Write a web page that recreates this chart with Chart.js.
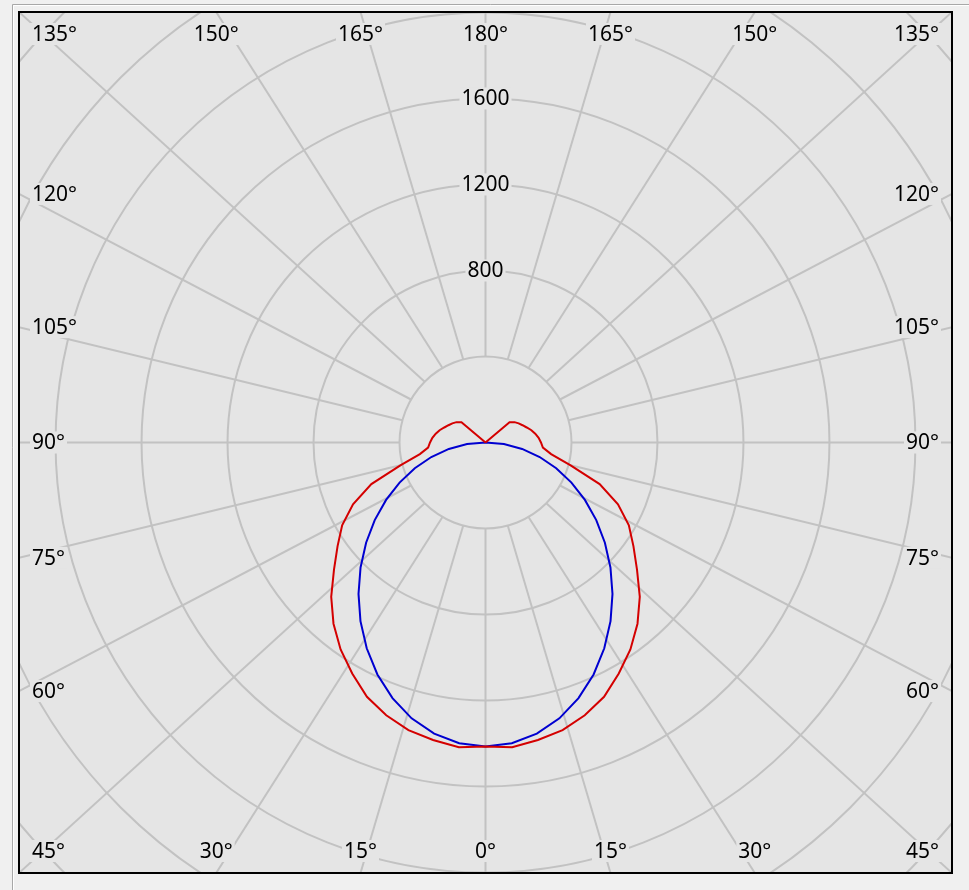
<!DOCTYPE html>
<html>
<head>
<meta charset="utf-8">
<script src="https://cdn.jsdelivr.net/npm/chart.js@4.4.1/dist/chart.umd.min.js"></script>
<style>
  html, body { margin: 0; padding: 0; background: #f0f0f0; overflow: hidden; }
  canvas { display: block; }
</style>
</head>
<body>
<canvas id="polarChart" width="969" height="890"></canvas>
<script>
// ============================ 데이터 ============================

// 각도 (0° = 아래, 180° = 위)
const angles = [0, 5, 10, 15, 20, 25, 30, 35, 40, 45, 50, 55, 60, 65, 70, 75, 80, 85, 90,
  95, 100, 105, 110, 115, 120, 125, 130, 135, 140, 145, 150, 155, 160, 165, 170, 175, 180];

// C0/C180 평면 (빨강), cd
const redValues = [1414, 1423, 1405, 1385, 1350, 1305, 1240, 1175, 1100, 1015, 920, 840, 770, 680, 565, 410, 310, 268, 258,
  248, 235, 221, 204, 190, 178, 165, 146, 0, 0, 0, 0, 0, 0, 0, 0, 0, 0];

// C90/C270 평면 (파랑), cd
const blueValues = [1414, 1404, 1375, 1328, 1265, 1190, 1105, 1014, 919, 822, 725, 629, 534, 441, 350, 261, 173, 86, 0,
  0, 0, 0, 0, 0, 0, 0, 0, 0, 0, 0, 0, 0, 0, 0, 0, 0, 0];

const ringValues = [400, 800, 1200, 1600, 2000, 2400, 2800];
const ringLabels = [800, 1200, 1600];
const spokeAngles = [0, 15, 30, 45, 60, 75, 90, 105, 120, 135, 150, 165, 180];

// ============================ 스타일 ============================

const PLOT_BG = "#e5e5e5";
const GRID = "#c2c2c2";
const FONT = "21px 'Noto Sans', 'DejaVu Sans', sans-serif";

function toPoints(values) {
  const pts = [];
  for (let i = angles.length - 1; i >= 0; i--) {
    const a = angles[i] * Math.PI / 180;
    pts.push({ x: -values[i] * Math.sin(a), y: -values[i] * Math.cos(a) });
  }
  for (let i = 1; i < angles.length; i++) {
    const a = angles[i] * Math.PI / 180;
    pts.push({ x: values[i] * Math.sin(a), y: -values[i] * Math.cos(a) });
  }
  return pts;
}

function labelWithBackdrop(ctx, text, x, y, align) {
  ctx.font = FONT;
  const w = ctx.measureText(text).width;
  let left = x - w / 2;
  if (align === "left") left = x;
  if (align === "right") left = x - w;
  ctx.fillStyle = PLOT_BG;
  ctx.fillRect(left - 2, y - 11, w + 4, 22);
  ctx.fillStyle = "#000";
  ctx.textAlign = align;
  ctx.textBaseline = "middle";
  ctx.fillText(text, x, y + 1);
}

// ============================ 극좌표 그리드 플러그인 ============================

const polarGrid = {
  id: "polarGrid",
  beforeDraw(chart) {
    const { ctx, chartArea: ca } = chart;
    ctx.save();
    ctx.fillStyle = "#f0f0f0";
    ctx.fillRect(0, 0, chart.width, chart.height);
    // 그룹박스 테두리
    ctx.strokeStyle = "#a8a8a8";
    ctx.lineWidth = 1;
    ctx.beginPath();
    ctx.moveTo(12.5, chart.height);
    ctx.lineTo(12.5, 4.5);
    ctx.lineTo(chart.width, 4.5);
    ctx.stroke();
    ctx.strokeStyle = "#ffffff";
    ctx.beginPath();
    ctx.moveTo(13.5, chart.height);
    ctx.lineTo(13.5, 5.5);
    ctx.lineTo(chart.width, 5.5);
    ctx.stroke();
    ctx.fillStyle = PLOT_BG;
    ctx.fillRect(ca.left, ca.top, ca.right - ca.left, ca.bottom - ca.top);
    ctx.restore();
  },
  beforeDatasetsDraw(chart) {
    const { ctx, chartArea: ca } = chart;
    const xs = chart.scales.x, ys = chart.scales.y;
    const cx = xs.getPixelForValue(0), cy = ys.getPixelForValue(0);
    const Wf = (ca.right - ca.left) / 2, Hf = (ca.bottom - ca.top) / 2;

    ctx.save();
    ctx.beginPath();
    ctx.rect(ca.left, ca.top, ca.right - ca.left, ca.bottom - ca.top);
    ctx.clip();

    ctx.strokeStyle = GRID;
    ctx.lineWidth = 2;
    ringValues.forEach(v => {
      const rx = xs.getPixelForValue(v) - cx;
      const ry = cy - ys.getPixelForValue(v);
      ctx.beginPath();
      ctx.ellipse(cx, cy, rx, ry, 0, 0, Math.PI * 2);
      ctx.stroke();
    });

    const labels = [];
    const inner = ringValues[0];
    spokeAngles.forEach(deg => {
      const sides = (deg === 0 || deg === 180) ? [1] : [-1, 1];
      sides.forEach(s => {
        const a = deg * Math.PI / 180;
        const u = Math.sin(a), v = Math.cos(a);
        const m = Math.max(Math.abs(u), Math.abs(v));
        const nu = u / m, nv = v / m;
        const fx = cx + s * nu * Wf, fy = cy + nv * Hf;
        const ix = xs.getPixelForValue(s * inner * u);
        const iy = ys.getPixelForValue(-inner * v);
        ctx.beginPath();
        ctx.moveTo(ix, iy);
        ctx.lineTo(fx, fy);
        ctx.stroke();

        const text = deg + "°";
        if (Math.abs(nu) > 0.999) {
          const lx = s < 0 ? ca.left + 13 : ca.right - 13;
          let ly = fy;
          if (Math.abs(nv) > 0.999) ly = nv < 0 ? ca.top + 22 : ca.bottom - 22;
          labels.push([text, lx, ly, s < 0 ? "left" : "right"]);
        } else {
          labels.push([text, fx, nv < 0 ? ca.top + 22 : ca.bottom - 22, "center"]);
        }
      });
    });

    labels.forEach(l => labelWithBackdrop(ctx, l[0], l[1], l[2], l[3]));
    ringLabels.forEach(v => labelWithBackdrop(ctx, String(v), cx, ys.getPixelForValue(v), "center"));
    ctx.restore();
  },
  afterDatasetsDraw(chart) {
    const { ctx, chartArea: ca } = chart;
    ctx.save();
    ctx.strokeStyle = "#000";
    ctx.lineWidth = 2;
    ctx.strokeRect(ca.left, ca.top, ca.right - ca.left, ca.bottom - ca.top);
    ctx.restore();
  }
};

// ============================ 차트 ============================

new Chart(document.getElementById("polarChart"), {
  type: "scatter",
  data: {
    datasets: [
      {
        label: "C0/C180",
        data: toPoints(redValues),
        showLine: true,
        borderColor: "#d40000",
        borderWidth: 2,
        pointRadius: 0,
        tension: 0,
        fill: false
      },
      {
        label: "C90/C270",
        data: toPoints(blueValues),
        showLine: true,
        borderColor: "#0000d0",
        borderWidth: 2,
        pointRadius: 0,
        tension: 0,
        fill: false
      }
    ]
  },
  options: {
    responsive: false,
    animation: false,
    layout: { padding: { left: 19, top: 12, right: 17, bottom: 17 } },
    plugins: { legend: { display: false }, tooltip: { enabled: false } },
    scales: {
      x: { type: "linear", min: -2170, max: 2170, display: false },
      y: { type: "linear", min: -2002, max: 2002, display: false }
    }
  },
  plugins: [polarGrid]
});
</script>
</body>
</html>
